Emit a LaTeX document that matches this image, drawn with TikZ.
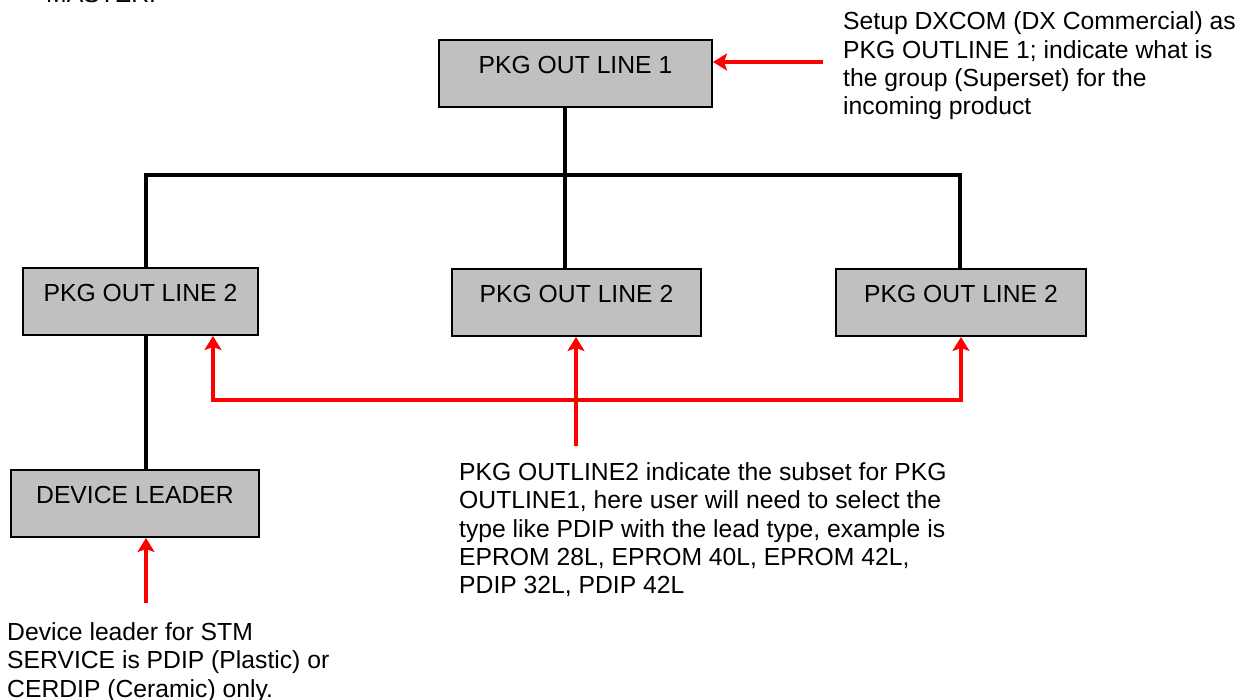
\documentclass[tikz,border=0pt]{standalone}
\usepackage{fontspec}
\setmainfont{Liberation Sans}
\usetikzlibrary{arrows.meta}
\definecolor{boxgray}{RGB}{192,192,192}
\begin{document}
\begin{tikzpicture}[x=1pt,y=-1pt,>={Stealth[length=14pt,width=17pt,inset=3pt]},line join=miter,font=\fontsize{24.7}{28.4}\selectfont,
	pkgbox/.style={draw,line width=2pt,fill=boxgray,inner sep=0pt,text height=34pt,text depth=33pt,anchor=north},
	treeline/.style={line width=3.5pt},
	hintarrow/.style={red,line width=4pt},
	hint/.style={anchor=base west,inner sep=0pt,align=left}]
		\useasboundingbox (0,0) rectangle (1254,700);
		\clip (0,0) rectangle (1254,700);
		\node[hint] (master) at (46,3) {MASTER.};
		\node[pkgbox,minimum width=273pt] (pkg1) at (575.5,39) {PKG OUT LINE 1};
		\node[pkgbox,minimum width=235pt] (pkgl) at (140.5,267) {PKG OUT LINE 2};
		\node[pkgbox,minimum width=249pt] (pkgm) at (576.5,268) {PKG OUT LINE 2};
		\node[pkgbox,minimum width=250pt] (pkgr) at (961,268) {PKG OUT LINE 2};
		\node[pkgbox,minimum width=248pt] (lead) at (135,469) {DEVICE LEADER};
		\node[hint] (note1) at (843,115) {Setup DXCOM (DX Commercial) as\\PKG OUTLINE 1; indicate what is\\the group (Superset) for the\\incoming product};
		\node[hint] (note2) at (459,594) {PKG OUTLINE2 indicate the subset for PKG\\OUTLINE1, here user will need to select the\\type like PDIP with the lead type, example is\\EPROM 28L, EPROM 40L, EPROM 42L,\\PDIP 32L, PDIP 42L};
		\node[hint] (note3) at (7,697) {Device leader for STM\\SERVICE is PDIP (Plastic) or\\CERDIP (Ceramic) only.};
		\coordinate (jl) at (146,175);
		\coordinate (jm) at (565,175);
		\coordinate (jr) at (960,175);
		\draw[treeline] (pkgl.north -| jl) -- (jl) -- (jr) -- (pkgr.north -| jr);
		\draw[treeline] (pkg1.south -| jm) -- (pkgm.north -| jm);
		\draw[treeline] (pkgl.south -| jl) -- (lead.north -| jl);
		\coordinate (a1) at (823,62);
		\coordinate (bl) at (213,400);
		\coordinate (br) at (961,400);
		\coordinate (bm) at (576,446);
		\coordinate (dl) at (146,603);
		\draw[hintarrow,->] (a1) -- (a1 -| pkg1.east);
		\draw[hintarrow,<->] (pkgl.south -| bl) -- (bl) -- (br) -- (pkgr.south -| br);
		\draw[hintarrow,->] (bm) -- (pkgm.south -| bm);
		\draw[hintarrow,->] (dl) -- (lead.south -| dl);
\end{tikzpicture}
\end{document}
